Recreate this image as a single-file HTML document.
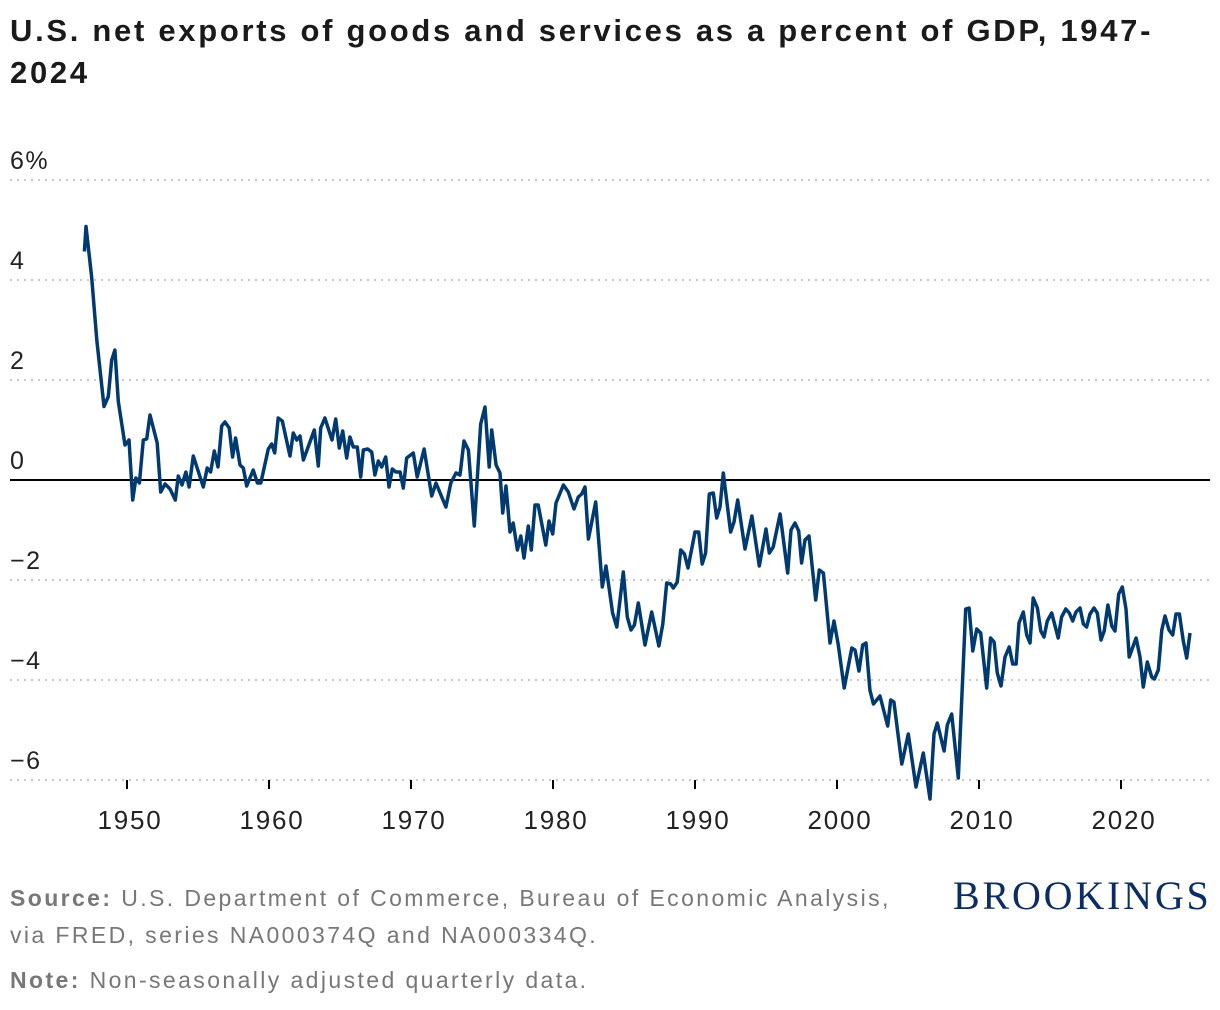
<!DOCTYPE html>
<html><head><meta charset="utf-8"><style>
body{margin:0;background:#fff;width:1220px;height:1010px;overflow:hidden;font-family:"Liberation Sans",Arial,sans-serif}
.t{position:absolute;left:10px;top:10px;font-size:31px;letter-spacing:2.7px;font-weight:bold;line-height:42px;color:#1a1a1a;width:1205px}
.src{position:absolute;left:10px;font-size:23px;letter-spacing:2.4px;color:#777;line-height:37px}
</style></head><body>
<div class="t">U.S. net exports of goods and services as a percent of GDP, 1947-<br>2024</div>
<svg id="c" width="1220" height="1010" style="position:absolute;left:0;top:0"></svg>
<div class="src" style="top:880px"><b>Source:</b> U.S. Department of Commerce, Bureau of Economic Analysis,<br>via FRED, series NA000374Q and NA000334Q.</div>
<div class="src" style="top:962px"><b>Note:</b> Non-seasonally adjusted quarterly data.</div>
<div style="position:absolute;left:953px;top:872px;font-family:'Liberation Serif',serif;font-size:40px;color:#0b2d63;letter-spacing:2.8px">BROOKINGS</div>
<script>
const years=[1947.0,1947.11,1947.51,1947.87,1948.38,1948.68,1948.92,1949.15,1949.39,1949.86,1950.14,1950.40,1950.63,1950.87,1951.15,1951.39,1951.62,1952.13,1952.37,1952.68,1953.03,1953.40,1953.61,1953.87,1954.15,1954.37,1954.67,1955.37,1955.65,1955.89,1956.15,1956.41,1956.67,1956.90,1957.20,1957.44,1957.65,1957.96,1958.19,1958.43,1958.89,1959.18,1959.42,1959.95,1960.19,1960.40,1960.65,1960.94,1961.48,1961.71,1961.95,1962.18,1962.42,1963.19,1963.47,1963.64,1963.94,1964.44,1964.70,1964.95,1965.19,1965.47,1965.70,1965.94,1966.22,1966.46,1966.64,1966.95,1967.23,1967.46,1967.70,1967.94,1968.22,1968.45,1968.68,1968.94,1969.23,1969.46,1969.70,1970.16,1970.44,1970.92,1971.46,1971.76,1972.46,1972.80,1973.17,1973.45,1973.73,1974.04,1974.46,1974.91,1975.21,1975.51,1975.68,1975.99,1976.27,1976.46,1976.69,1976.97,1977.20,1977.49,1977.73,1977.96,1978.26,1978.47,1978.73,1978.96,1979.49,1979.72,1979.98,1980.21,1980.73,1981.08,1981.48,1981.78,1982.02,1982.25,1982.49,1983.01,1983.47,1983.73,1984.20,1984.49,1984.95,1985.23,1985.49,1985.73,1986.01,1986.48,1986.95,1987.46,1987.73,1988.01,1988.29,1988.47,1988.75,1988.99,1989.25,1989.51,1990.00,1990.26,1990.51,1990.75,1991.01,1991.29,1991.53,1991.76,1991.99,1992.51,1992.75,1993.01,1993.52,1994.01,1994.53,1995.00,1995.23,1995.51,1995.99,1996.53,1996.76,1997.04,1997.30,1997.51,1997.75,1998.03,1998.50,1998.75,1999.04,1999.51,1999.79,2000.09,2000.51,2001.04,2001.27,2001.55,2001.81,2002.04,2002.32,2002.56,2003.03,2003.57,2003.78,2004.01,2004.56,2005.02,2005.56,2006.08,2006.55,2006.83,2007.06,2007.54,2007.77,2008.08,2008.54,2009.06,2009.30,2009.56,2009.84,2010.12,2010.54,2010.82,2011.06,2011.29,2011.55,2011.83,2012.13,2012.37,2012.61,2012.82,2013.12,2013.36,2013.59,2013.82,2014.11,2014.35,2014.58,2014.81,2015.12,2015.58,2015.82,2016.11,2016.36,2016.60,2016.83,2017.11,2017.35,2017.58,2017.82,2018.10,2018.33,2018.59,2018.82,2019.08,2019.35,2019.58,2019.84,2020.09,2020.35,2020.58,2021.06,2021.34,2021.57,2021.85,2022.16,2022.35,2022.63,2022.87,2023.10,2023.38,2023.64,2023.87,2024.11,2024.39,2024.63,2024.86];
const values=[4.57,5.07,4.07,2.80,1.47,1.67,2.40,2.60,1.57,0.70,0.80,-0.40,0.04,-0.06,0.80,0.82,1.30,0.74,-0.24,-0.08,-0.18,-0.40,0.08,-0.10,0.16,-0.14,0.48,-0.14,0.24,0.16,0.58,0.26,1.08,1.16,1.04,0.46,0.84,0.30,0.24,-0.12,0.20,-0.06,-0.06,0.62,0.72,0.54,1.24,1.18,0.48,0.94,0.80,0.88,0.40,1.00,0.28,1.04,1.24,0.80,1.22,0.64,0.98,0.44,0.86,0.66,0.66,0.06,0.60,0.62,0.56,0.10,0.38,0.26,0.46,-0.14,0.22,0.16,0.16,-0.16,0.44,0.54,0.06,0.62,-0.32,-0.06,-0.54,-0.06,0.14,0.10,0.78,0.60,-0.92,1.12,1.46,0.26,1.00,0.30,0.14,-0.66,-0.12,-1.04,-0.86,-1.40,-1.12,-1.56,-0.92,-1.40,-0.50,-0.50,-1.30,-0.82,-1.08,-0.46,-0.10,-0.24,-0.58,-0.34,-0.28,-0.14,-1.18,-0.44,-2.14,-1.72,-2.66,-2.94,-1.84,-2.74,-3.00,-2.90,-2.46,-3.30,-2.64,-3.32,-2.88,-2.06,-2.08,-2.16,-2.04,-1.40,-1.48,-1.76,-1.04,-1.04,-1.68,-1.46,-0.28,-0.26,-0.76,-0.54,0.14,-1.04,-0.84,-0.40,-1.38,-0.72,-1.72,-0.98,-1.46,-1.34,-0.68,-1.86,-1.00,-0.86,-1.02,-1.66,-1.20,-1.12,-2.40,-1.80,-1.86,-3.26,-2.82,-3.30,-4.16,-3.36,-3.40,-3.82,-3.30,-3.26,-4.20,-4.48,-4.32,-4.92,-4.40,-4.44,-5.68,-5.08,-6.14,-5.46,-6.38,-5.08,-4.86,-5.42,-4.90,-4.68,-5.96,-2.58,-2.56,-3.42,-2.98,-3.06,-4.16,-3.16,-3.24,-3.86,-4.12,-3.54,-3.34,-3.68,-3.68,-2.86,-2.64,-3.10,-3.26,-2.36,-2.56,-3.02,-3.14,-2.82,-2.66,-3.16,-2.74,-2.58,-2.66,-2.82,-2.64,-2.56,-2.88,-2.94,-2.68,-2.56,-2.66,-3.20,-3.02,-2.50,-2.92,-3.02,-2.28,-2.14,-2.58,-3.54,-3.16,-3.54,-4.14,-3.64,-3.94,-3.98,-3.80,-3.00,-2.72,-3.00,-3.10,-2.68,-2.68,-3.22,-3.56,-3.06];
const yTicks=[6,4,2,0,-2,-4,-6];
const yTickLabels=["6%","4","2","0","\u22122","\u22124","\u22126"];
const xTicks=[1950,1960,1970,1980,1990,2000,2010,2020];
const NS="http://www.w3.org/2000/svg";
const svg=document.getElementById('c');
const X=y=>127+(y-1950)*14.2;
const Y=v=>480-v*50;
function mk(tag,attrs){const e=document.createElementNS(NS,tag);for(const k in attrs)e.setAttribute(k,attrs[k]);svg.appendChild(e);return e;}
yTicks.forEach((t,i)=>{
  if(t!==0){const g=mk('line',{x1:10,x2:1210,y1:Y(t),y2:Y(t),stroke:'#c8c8c8','stroke-width':2,'stroke-dasharray':'2,5'});
  
  }
  const tx=mk('text',{x:10,y:Y(t)-11,'font-size':25,'letter-spacing':1.5,fill:'#222','font-family':'Liberation Sans, sans-serif'});
  tx.textContent=yTickLabels[i];
  
  
});
xTicks.forEach(t=>{
  const l=mk('line',{x1:X(t),x2:X(t),y1:780,y2:789,stroke:'#000','stroke-width':2});
  
  
  const tx=mk('text',{x:X(t)+3,y:829,'font-size':26,'letter-spacing':1.8,fill:'#222','text-anchor':'middle','font-family':'Liberation Sans, sans-serif'});
  tx.textContent=t;
  
  
});
const z=mk('line',{x1:10,x2:1210,y1:Y(0),y2:Y(0),stroke:'#000','stroke-width':2});


const p=mk('path',{d:years.map((y,i)=>(i?'L':'M')+X(y).toFixed(1)+','+Y(values[i]).toFixed(1)).join(''),fill:'none',stroke:'#003a70','stroke-width':3.5,'stroke-linejoin':'round'});


</script>
</body></html>
